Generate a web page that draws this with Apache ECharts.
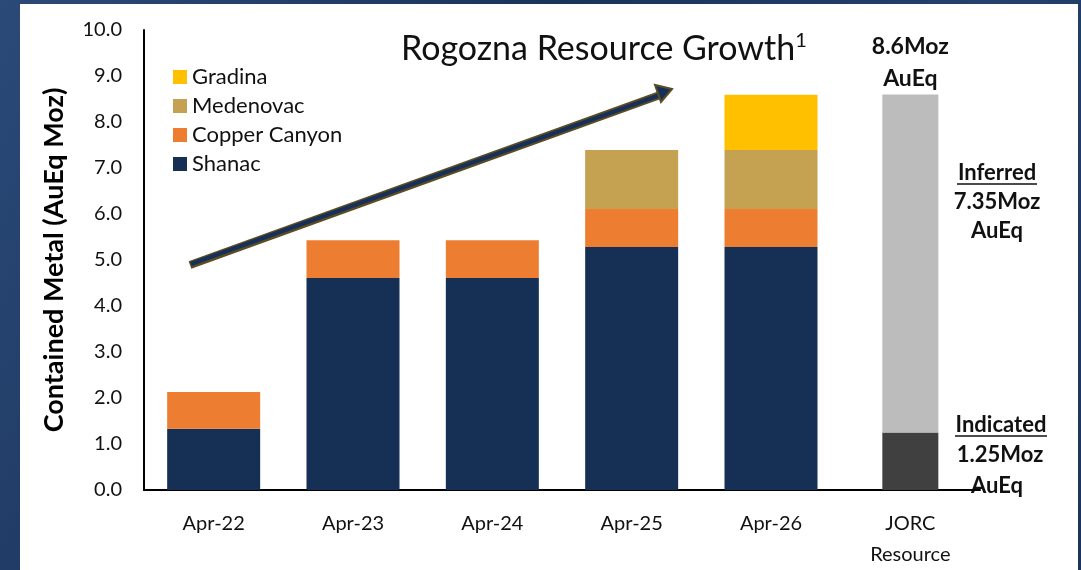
<!DOCTYPE html>
<html>
<head>
<meta charset="utf-8">
<script src="https://cdn.jsdelivr.net/npm/echarts@6/dist/echarts.min.js"></script>
<style>
  html, body { margin: 0; padding: 0; }
  body {
    width: 1081px; height: 570px; overflow: hidden;
    background: linear-gradient(120deg, #2b4a78 0%, #1a335b 40%, #23416c 70%, #1b3459 100%);
  }
  #main { position: absolute; left: 20px; top: 4px; width: 1058px; height: 566px; background: #fff; }
</style>
</head>
<body>
<div id="main"></div>
<script>
// data
const categories = ['Apr-22', 'Apr-23', 'Apr-24', 'Apr-25', 'Apr-26', 'JORC\nResource'];
const shanac = [1.33, 4.61, 4.61, 5.28, 5.28, '-'];
const copperCanyon = [0.80, 0.82, 0.82, 0.83, 0.83, '-'];
const medenovac = ['-', '-', '-', 1.28, 1.28, '-'];
const gradina = ['-', '-', '-', '-', 1.20, '-'];
const indicated = ['-', '-', '-', '-', '-', 1.25];
const inferred = ['-', '-', '-', '-', '-', 7.35];
const yTicks = [0, 1, 2, 3, 4, 5, 6, 7, 8, 9, 10];

const FONT = 'Lato';
let myChart = echarts.init(document.getElementById('main'));

const barSeries = (name, data, color) => ({
  name: name, type: 'bar', stack: 'growth', data: data,
  barWidth: 93, itemStyle: { color: color }
});

const note = (text, x, y) => ({
  type: 'text', x: x, y: y,
  style: { text: text, font: 'bold 22px Lato', fill: '#111', align: 'center', verticalAlign: 'middle' }
});

myChart.setOption({
  animation: false,
  textStyle: { fontFamily: FONT },
  title: {
    text: '{t|Rogozna Resource Growth}{s|1}',
    left: 376, top: 22,
    textStyle: {
      rich: {
        t: { fontSize: 34, fontWeight: 'normal', color: '#111', fontFamily: FONT },
        s: { fontSize: 20, fontWeight: 'normal', color: '#111', fontFamily: FONT, verticalAlign: 'top', padding: [0, 0, 16, 0] }
      }
    }
  },
  legend: {
    data: ['Gradina', 'Medenovac', 'Copper Canyon', 'Shanac'],
    orient: 'vertical', left: 148, top: 57,
    itemWidth: 14, itemHeight: 14, itemGap: 7, icon: 'rect',
    textStyle: { fontSize: 22, color: '#111', fontFamily: FONT }
  },
  grid: { left: 124, top: 26, right: 98, bottom: 80, outerBoundsMode: 'none' },
  xAxis: [{
    type: 'category', data: categories,
    axisLine: { lineStyle: { color: '#000', width: 2 } },
    axisTick: { show: false },
    axisLabel: { fontSize: 20, color: '#111', margin: 18, lineHeight: 31, fontFamily: FONT }
  }, {
    type: 'category', data: categories, show: false
  }],
  yAxis: {
    type: 'value', min: 0, max: 10, interval: 1,
    axisLine: { show: true, lineStyle: { color: '#000', width: 2 } },
    axisTick: { show: false },
    splitLine: { show: false },
    axisLabel: { fontSize: 20, color: '#111', margin: 22, fontFamily: FONT, formatter: v => v.toFixed(1) },
    name: 'Contained Metal (AuEq Moz)',
    nameLocation: 'middle', nameGap: 76, nameRotate: 90,
    nameTextStyle: { fontSize: 27, fontWeight: 'bold', color: '#000', fontFamily: FONT }
  },
  series: [
    barSeries('Shanac', shanac, '#152f55'),
    barSeries('Copper Canyon', copperCanyon, '#ed7d31'),
    barSeries('Medenovac', medenovac, '#c4a251'),
    barSeries('Gradina', gradina, '#ffc000'),
    {
      name: 'Indicated', type: 'bar', stack: 'jorc', xAxisIndex: 1, data: indicated,
      barWidth: 56, itemStyle: { color: '#404040' }
    },
    {
      name: 'Inferred', type: 'bar', stack: 'jorc', xAxisIndex: 1, data: inferred,
      barWidth: 56, itemStyle: { color: '#bcbcbc' },
      label: {
        show: true, position: 'top', distance: 0,
        formatter: '8.6Moz\nAuEq', fontSize: 23, fontWeight: 'bold', color: '#111',
        lineHeight: 32, fontFamily: FONT
      }
    }
  ],
  graphic: [
    // growth arrow
    { type: 'line', shape: { x1: 170, y1: 261, x2: 640, y2: 91 }, style: { stroke: '#5b4c22', lineWidth: 8 } },
    { type: 'line', shape: { x1: 171, y1: 260, x2: 640, y2: 91 }, style: { stroke: '#17305a', lineWidth: 4 } },
    { type: 'polygon', shape: { points: [[652, 85], [635, 81], [641, 98]] }, style: { fill: '#17305a', stroke: '#5b4c22', lineWidth: 2 } },
    // JORC annotations
    note('Inferred', 977, 169),
    { type: 'line', shape: { x1: 937, y1: 180, x2: 1017, y2: 180 }, style: { stroke: '#111', lineWidth: 1.5 } },
    note('7.35Moz', 977, 198),
    note('AuEq', 977, 227),
    note('Indicated', 981, 421),
    { type: 'line', shape: { x1: 935, y1: 432, x2: 1027, y2: 432 }, style: { stroke: '#111', lineWidth: 1.5 } },
    note('1.25Moz', 980, 451),
    note('AuEq', 977, 482)
  ]
});
</script>
</body>
</html>
